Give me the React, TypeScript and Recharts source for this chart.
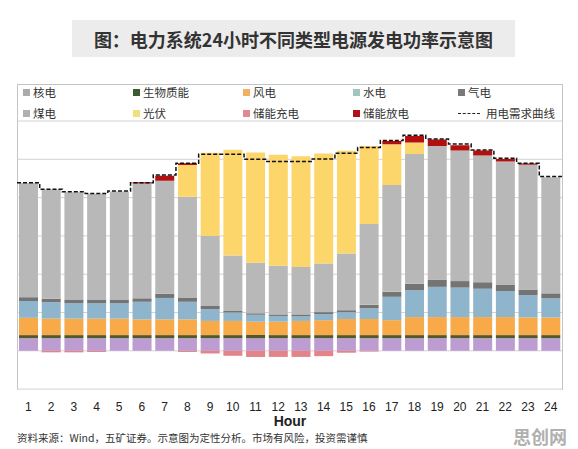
import React from "react";
import { ComposedChart, Bar, Line, XAxis, YAxis, CartesianGrid } from "recharts";

const hours = [1, 2, 3, 4, 5, 6, 7, 8, 9, 10, 11, 12, 13, 14, 15, 16, 17, 18, 19, 20, 21, 22, 23, 24];
const nuclear = [0.33, 0.33, 0.33, 0.33, 0.33, 0.33, 0.33, 0.33, 0.33, 0.33, 0.33, 0.33, 0.33, 0.33, 0.33, 0.33, 0.33, 0.33, 0.33, 0.33, 0.33, 0.33, 0.33, 0.33];
const biomass = [0.08, 0.08, 0.08, 0.08, 0.08, 0.08, 0.08, 0.08, 0.08, 0.08, 0.08, 0.08, 0.08, 0.08, 0.08, 0.08, 0.08, 0.08, 0.08, 0.08, 0.08, 0.08, 0.08, 0.08];
const wind = [0.45, 0.43, 0.43, 0.43, 0.43, 0.41, 0.41, 0.41, 0.37, 0.37, 0.35, 0.35, 0.37, 0.39, 0.42, 0.42, 0.39, 0.47, 0.47, 0.47, 0.47, 0.47, 0.46, 0.46];
const hydro = [0.44, 0.43, 0.4, 0.4, 0.4, 0.46, 0.56, 0.46, 0.31, 0.22, 0.18, 0.15, 0.12, 0.16, 0.18, 0.28, 0.61, 0.7, 0.79, 0.77, 0.74, 0.68, 0.58, 0.5];
const gas = [0.1, 0.09, 0.1, 0.1, 0.1, 0.09, 0.11, 0.1, 0.08, 0.04, 0.04, 0.04, 0.05, 0.05, 0.05, 0.09, 0.13, 0.17, 0.19, 0.17, 0.17, 0.17, 0.15, 0.13];
const coal = [2.98, 2.85, 2.8, 2.76, 2.82, 3.0, 2.95, 2.64, 1.83, 1.45, 1.32, 1.27, 1.24, 1.27, 1.48, 2.11, 2.79, 3.39, 3.49, 3.41, 3.31, 3.21, 3.26, 3.03];
const solar = [0, 0, 0, 0, 0, 0, 0, 0.83, 2.17, 2.76, 2.88, 2.9, 2.89, 2.87, 2.68, 2.04, 1.06, 0.3, 0, 0, 0, 0, 0, 0];
const discharge = [0, 0, 0, 0, 0, 0.03, 0.13, 0.05, 0, 0, 0, 0, 0, 0, 0, 0, 0.09, 0.17, 0.17, 0.14, 0.13, 0.07, 0.03, 0];
const charge = [0, -0.04, -0.04, -0.03, 0, 0, 0, -0.03, -0.07, -0.13, -0.16, -0.16, -0.16, -0.14, -0.05, -0.02, 0, 0, 0, 0, 0, 0, 0, 0];
const demand = [4.39, 4.22, 4.15, 4.11, 4.17, 4.39, 4.59, 4.9, 5.13, 5.13, 5.0, 4.94, 4.94, 5.01, 5.16, 5.31, 5.49, 5.63, 5.53, 5.4, 5.24, 5.03, 4.9, 4.55];

const yTicks = [0, 1, 2, 3, 4, 5, 6];

const title = "图：电力系统24小时不同类型电源发电功率示意图";
const footer = "资料来源：Wind，五矿证券。示意图为定性分析。市场有风险，投资需谨慎";
const watermark = "思创网";
const xLabel = "Hour";

const rows = hours.map((h, i) => ({
  hour: h,
  nuclear: nuclear[i],
  biomass: biomass[i],
  wind: wind[i],
  hydro: hydro[i],
  gas: gas[i],
  coal: coal[i],
  solar: solar[i],
  discharge: discharge[i],
  charge: charge[i],
}));

// step outline of the demand curve: each hour's level spans its whole slot
const demandSteps = hours.flatMap((h, i) => [
  { pos: h - 0.5, demand: demand[i] },
  { pos: h + 0.5, demand: demand[i] },
]);

const series = [
  { key: "nuclear", color: "#bd9dd1" },
  { key: "biomass", color: "#4f5a2c" },
  { key: "wind", color: "#f8a948" },
  { key: "hydro", color: "#8fb5cd" },
  { key: "gas", color: "#747474" },
  { key: "coal", color: "#b8b8b8" },
  { key: "solar", color: "#fcd56b" },
  { key: "discharge", color: "#b30f0f" },
  { key: "charge", color: "#e2848a" },
];

const legendRows = [
  [
    { name: "核电", color: "#ababab" },
    { name: "生物质能", color: "#3d5a32" },
    { name: "风电", color: "#f2b062" },
    { name: "水电", color: "#a2c6bf" },
    { name: "气电", color: "#7a7a7a" },
  ],
  [
    { name: "煤电", color: "#b0b0b0" },
    { name: "光伏", color: "#eee07a" },
    { name: "储能充电", color: "#e08896" },
    { name: "储能放电", color: "#b0101a" },
    { name: "用电需求曲线", color: "dash" },
  ],
];
const legendX = [23, 133, 243, 353, 458];
const legendY = [92, 113];

const cjk = '"Noto Sans CJK SC", "Noto Sans", sans-serif';

export default function App() {
  return (
    <div style={{ position: "absolute", left: 0, top: 0, width: 578, height: 449, background: "#fff", overflow: "hidden" }}>
      <div
        style={{
          position: "absolute",
          left: 72,
          top: 20,
          width: 443,
          height: 37,
          background: "#ececec",
          display: "flex",
          alignItems: "center",
          justifyContent: "center",
          fontFamily: cjk,
          fontWeight: 700,
          fontSize: 18,
          color: "#333",
        }}
      >
        {title}
      </div>
      <div
        style={{
          position: "absolute",
          left: 17,
          top: 84,
          width: 544,
          height: 305,
          borderTop: "1px solid #c4c4c4",
          borderLeft: "1px solid #c4c4c4",
          borderRight: "1px solid #c4c4c4",
        }}
      />
      {legendRows.map((row, r) =>
        row.map((item, c) => (
          <div
            key={item.name}
            style={{
              position: "absolute",
              left: legendX[c],
              top: legendY[r] - 8,
              height: 16,
              display: "flex",
              alignItems: "center",
              fontFamily: cjk,
              fontSize: 11.5,
              color: "#333",
              whiteSpace: "nowrap",
            }}
          >
            {item.color === "dash" ? (
              <span style={{ display: "inline-block", width: 22, borderTop: "1.5px dashed #222", marginRight: 6 }} />
            ) : (
              <span style={{ display: "inline-block", width: 7, height: 7, background: item.color, marginRight: 3 }} />
            )}
            {item.name}
          </div>
        ))
      )}
      <div style={{ position: "absolute", left: 0, top: 0 }}>
        <ComposedChart
          width={578}
          height={449}
          data={rows}
          margin={{ top: 121, right: 16, bottom: 30, left: 17 }}
          stackOffset="sign"
        >
          <CartesianGrid vertical={false} stroke="#d2d2d2" xAxisId="cat" />
          <XAxis
            xAxisId="cat"
            dataKey="hour"
            type="category"
            interval={0}
            height={29.9}
            axisLine={false}
            tickLine={false}
            tickMargin={7}
            tick={{ fontSize: 12, fill: "#222", fontFamily: '"Liberation Sans", Arial, sans-serif' }}
          />
          <XAxis
            xAxisId="num"
            dataKey="pos"
            type="number"
            domain={[0.5, 24.5]}
            allowDataOverflow
            hide
          />
          <YAxis hide type="number" domain={[-1, 6]} ticks={yTicks} allowDataOverflow />
          {series.map((s) => (
            <Bar key={s.key} xAxisId="cat" dataKey={s.key} stackId="p" fill={s.color} barSize={19} isAnimationActive={false} />
          ))}
          <Line
            xAxisId="num"
            data={demandSteps}
            dataKey="demand"
            type="linear"
            stroke="#111"
            strokeWidth={1.5}
            strokeDasharray="4 2"
            dot={false}
            activeDot={false}
            isAnimationActive={false}
          />
        </ComposedChart>
      </div>
      <div
        style={{
          position: "absolute",
          left: 260,
          width: 60,
          top: 414,
          lineHeight: "14px",
          textAlign: "center",
          fontFamily: '"Liberation Sans", Arial, sans-serif',
          fontWeight: 700,
          fontSize: 14,
          color: "#222",
        }}
      >
        {xLabel}
      </div>
      <div
        style={{
          position: "absolute",
          left: 17,
          top: 430,
          fontFamily: cjk,
          fontSize: 10.5,
          color: "#333",
          whiteSpace: "nowrap",
        }}
      >
        {footer}
      </div>
      <div
        style={{
          position: "absolute",
          left: 513,
          top: 426,
          lineHeight: "20px",
          fontFamily: cjk,
          fontWeight: 700,
          fontSize: 18,
          color: "#b0b0b0",
          whiteSpace: "nowrap",
        }}
      >
        {watermark}
      </div>
    </div>
  );
}
